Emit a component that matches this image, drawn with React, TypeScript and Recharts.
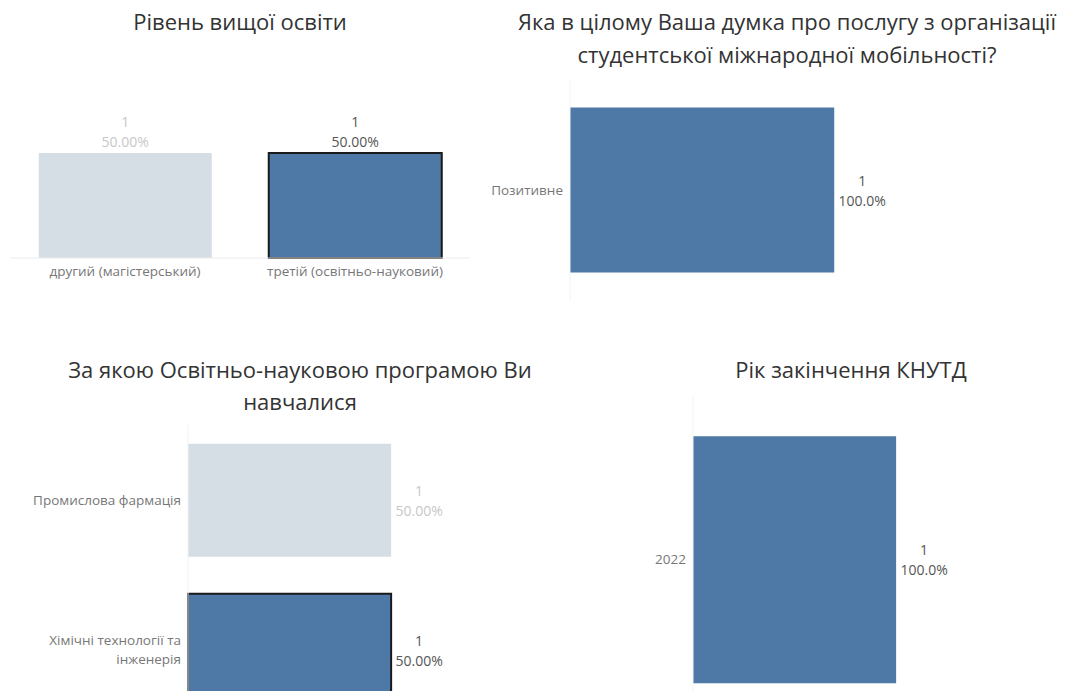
import { BarChart, Bar, XAxis, YAxis, Cell, LabelList } from 'recharts'

const levelCategories = ['другий (магістерський)', 'третій (освітньо-науковий)']
const levelCounts = [1, 1]
const levelState = ['faded', 'selected']

const opinionCategories = ['Позитивне']
const opinionCounts = [1]
const opinionState = ['normal']

const programCategories = ['Промислова фармація', 'Хімічні технології та інженерія']
const programCounts = [1, 1]
const programState = ['faded', 'selected']

const yearCategories = ['2022']
const yearCounts = [1]
const yearState = ['normal']

const FONT = '"Open Sans", "Noto Sans", sans-serif'
const BLUE = '#4e79a7'
const FADED = '#d5dde5'
const TICK_SIZE = 13.5
const VALUE_SIZE = 14

const build = (cats: string[], counts: number[], state: string[], decimals: number) => {
  const total = counts.reduce((a, b) => a + b, 0)
  return cats.map((name, i) => ({
    name,
    count: counts[i],
    pct: ((counts[i] / total) * 100).toFixed(decimals) + '%',
    state: state[i],
  }))
}

const levelData = build(levelCategories, levelCounts, levelState, 2)
const opinionData = build(opinionCategories, opinionCounts, opinionState, 1)
const programData = build(programCategories, programCounts, programState, 2)
const yearData = build(yearCategories, yearCounts, yearState, 1)

const labelColor = (s: string) => (s === 'faded' ? '#c8c8c8' : '#555')

const cells = (data: any[]) =>
  data.map((d, i) => (
    <Cell
      key={i}
      fill={d.state === 'faded' ? FADED : BLUE}
      stroke={d.state === 'selected' ? '#1a1a1a' : 'none'}
      strokeWidth={d.state === 'selected' ? 2 : 0}
    />
  ))

const topLabel = (data: any[]) => (props: any) => {
  const { x, y, width, index } = props
  const d = data[index]
  const cx = x + width / 2
  return (
    <g fontFamily={FONT} fontSize={VALUE_SIZE} fill={labelColor(d.state)} textAnchor="middle">
      <text x={cx} y={y - 32} dominantBaseline="central">{d.count}</text>
      <text x={cx} y={y - 12} dominantBaseline="central">{d.pct}</text>
    </g>
  )
}

const sideLabel = (data: any[]) => (props: any) => {
  const { x, y, width, height, index } = props
  const d = data[index]
  const cx = x + width + 28
  const cy = y + height / 2
  return (
    <g fontFamily={FONT} fontSize={VALUE_SIZE} fill={labelColor(d.state)} textAnchor="middle">
      <text x={cx} y={cy - 10} dominantBaseline="central">{d.count}</text>
      <text x={cx} y={cy + 10} dominantBaseline="central">{d.pct}</text>
    </g>
  )
}

// greedy word wrap by character count
const wrap = (s: string, max: number) => {
  const lines: string[] = []
  let cur = ''
  s.split(' ').forEach((w) => {
    const next = cur ? cur + ' ' + w : w
    if (next.length > max && cur) {
      lines.push(cur)
      cur = w
    } else cur = next
  })
  if (cur) lines.push(cur)
  return lines
}

const CatTick = (props: any) => {
  const { x, y, payload } = props
  const lines = wrap(String(payload.value), 22)
  return (
    <text x={x - 5} y={y} textAnchor="end" fontSize={TICK_SIZE} fontFamily={FONT} fill="#777">
      {lines.map((l, i) => (
        <tspan key={i} x={x - 5} y={y + (i - (lines.length - 1) / 2) * 19} dy="0.35em">
          {l}
        </tspan>
      ))}
    </text>
  )
}

const titleStyle: any = {
  position: 'absolute',
  textAlign: 'center',
  fontSize: 22,
  lineHeight: '33px',
  color: '#333',
  fontFamily: FONT,
  whiteSpace: 'nowrap',
}

const axisStroke = '#ececec'

export default function App() {
  return (
    <div style={{ position: 'absolute', left: 0, top: 0, width: 1080, height: 691, overflow: 'hidden', background: '#fff' }}>
      <div style={{ ...titleStyle, left: 0, top: 5, width: 480 }}>Рівень вищої освіти</div>
      <div style={{ ...titleStyle, left: 487, top: 5, width: 600 }}>
        Яка в цілому Ваша думка про послугу з організації
        <br />
        студентської міжнародної мобільності?
      </div>
      <div style={{ ...titleStyle, left: 0, top: 353, width: 600, lineHeight: '32px' }}>
        За якою Освітньо-науковою програмою Ви
        <br />
        навчалися
      </div>
      <div style={{ ...titleStyle, left: 651, top: 353, width: 400 }}>Рік закінчення КНУТД</div>

      {/* top left: vertical bars */}
      <div style={{ position: 'absolute', left: 0, top: 30 }}>
        <BarChart width={480} height={260} data={levelData} margin={{ top: 18, right: 10, left: 10, bottom: 2 }} barCategoryGap="12.5%">
          <XAxis
            dataKey="name"
            height={30}
            tickLine={false}
            tickSize={0}
            tickMargin={8}
            axisLine={{ stroke: axisStroke }}
            tick={{ fontSize: TICK_SIZE, fill: '#777', fontFamily: FONT }}
          />
          <YAxis width={0} domain={[0, 2]} tick={false} tickLine={false} axisLine={{ stroke: '#f3f3f3' }} />
          <Bar dataKey="count" isAnimationActive={false}>
            {cells(levelData)}
            <LabelList dataKey="count" content={topLabel(levelData)} />
          </Bar>
        </BarChart>
      </div>

      {/* top right */}
      <div style={{ position: 'absolute', left: 480, top: 70 }}>
        <BarChart width={600} height={240} data={opinionData} layout="vertical" margin={{ top: 10, right: 0, left: 0, bottom: 10 }} barCategoryGap="12.5%">
          <XAxis type="number" domain={[0, 1.93]} height={0} tick={false} tickLine={false} axisLine={{ stroke: axisStroke }} />
          <YAxis type="category" dataKey="name" width={90} tickLine={false} tickSize={0} axisLine={{ stroke: '#f3f3f3' }} tick={<CatTick />} />
          <Bar dataKey="count" isAnimationActive={false}>
            {cells(opinionData)}
            <LabelList dataKey="count" content={sideLabel(opinionData)} />
          </Bar>
        </BarChart>
      </div>

      {/* bottom left */}
      <div style={{ position: 'absolute', left: 0, top: 415 }}>
        <BarChart width={540} height={320} data={programData} layout="vertical" margin={{ top: 10, right: 27, left: 0, bottom: 10 }} barCategoryGap="12.5%">
          <XAxis type="number" domain={[0, 1.6]} height={0} tick={false} tickLine={false} axisLine={{ stroke: axisStroke }} />
          <YAxis type="category" dataKey="name" width={188} tickLine={false} tickSize={0} axisLine={{ stroke: '#f3f3f3' }} tick={<CatTick />} />
          <Bar dataKey="count" isAnimationActive={false}>
            {cells(programData)}
            <LabelList dataKey="count" content={sideLabel(programData)} />
          </Bar>
        </BarChart>
      </div>

      {/* bottom right */}
      <div style={{ position: 'absolute', left: 600, top: 385 }}>
        <BarChart width={480} height={350} data={yearData} layout="vertical" margin={{ top: 10, right: 62, left: 0, bottom: 11 }} barCategoryGap="12.5%">
          <XAxis type="number" domain={[0, 1.6]} height={0} tick={false} tickLine={false} axisLine={{ stroke: axisStroke }} />
          <YAxis type="category" dataKey="name" width={93} tickLine={false} tickSize={0} axisLine={{ stroke: '#f3f3f3' }} tick={<CatTick />} />
          <Bar dataKey="count" isAnimationActive={false}>
            {cells(yearData)}
            <LabelList dataKey="count" content={sideLabel(yearData)} />
          </Bar>
        </BarChart>
      </div>
    </div>
  )
}
